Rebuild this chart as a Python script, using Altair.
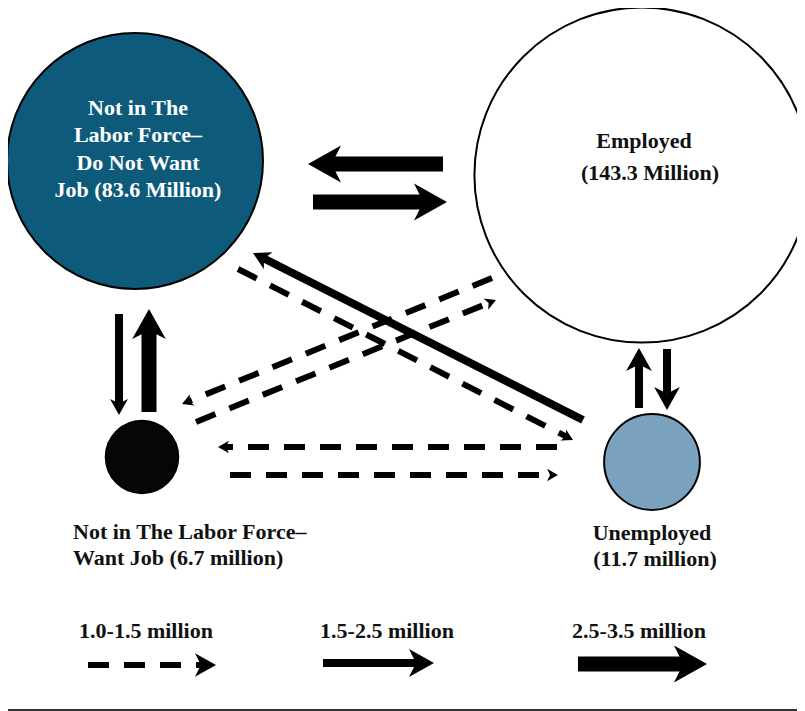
import math
import altair as alt
import pandas as pd

# ---------------- data ----------------
node_ids = ["dnw", "emp", "wj", "unemp"]
node_millions = [83.6, 143.3, 6.7, 11.7]
node_lines = [
    ["Not in The", "Labor Force–", "Do Not Want", "Job (83.6 Million)"],
    ["Employed", "(143.3 Million)"],
    ["Not in The Labor Force–", "Want Job (6.7 million)"],
    ["Unemployed", "(11.7 million)"],
]
flow_classes = ["1.0-1.5 million", "1.5-2.5 million", "2.5-3.5 million"]
flow_from = ["emp", "dnw", "dnw", "wj", "unemp", "emp", "unemp", "dnw", "emp", "wj", "unemp", "wj"]
flow_to = ["dnw", "emp", "wj", "dnw", "emp", "unemp", "dnw", "unemp", "wj", "emp", "wj", "unemp"]
flow_class = [2, 2, 1, 2, 1, 1, 1, 0, 0, 0, 0, 0]  # index into flow_classes

# ---------------- layout / style (reference pixel positions) ----------------
node_x = [135, 642, 142, 652]
node_y = [161, 175, 457, 462]
node_fill = ["#0d5a7a", "#ffffff", "#060606", "#7aa1bd"]
node_text_color = ["#ffffff", "#111111", "#111111", "#111111"]
node_text_align = ["center", "center", "left", "center"]
node_text_pos = [
    [(138, 115), (138, 142), (138, 170), (138, 197)],
    [(644, 148), (650, 180)],
    [(73, 539), (73, 565)],
    [(652, 540), (655, 566)],
]
flow_tail = [(443, 164), (313, 202), (119, 314), (149, 412), (639, 408), (667, 349),
             (583, 420), (238, 269), (492, 278), (196, 422), (557, 447), (230, 475)]
flow_tip = [(308, 164), (447, 202), (119, 415), (149, 309), (639, 348), (667, 410),
            (253, 253), (573, 440), (182, 404), (496, 300), (218, 447), (558, 475)]
flow_head = [33, 33, 16, 30, 23, 23, 17, 11, 11, 11, 11, 11]
legend_tail = [(88, 665), (323, 663), (578, 664)]
legend_tip = [(216, 665), (434, 663), (707, 664)]
legend_head = [21, 25, 33]
legend_text_pos = [(146, 638), (387, 638), (639, 638)]
class_width = [6, 8, 15]
DASH = [21, 15]
HEAD_PATH = "M0,0 L0.56,1 L0,0.72 L-0.56,1 Z"
FONT = "Liberation Serif"
FS = 22

W, H = 789, 703
xs = alt.Scale(domain=[8, 8 + W], nice=False, zero=False)
ys = alt.Scale(domain=[8, 8 + H], nice=False, zero=False, reverse=True)

# ---------------- tables ----------------
nodes = pd.DataFrame({"id": node_ids, "millions": node_millions, "x": node_x,
                      "y": node_y, "fill": node_fill})

rows = []
def add_arrow(tail, tip, cls, head, kind):
    dx, dy = tip[0] - tail[0], tip[1] - tail[1]
    ln = math.hypot(dx, dy)
    ux, uy = dx / ln, dy / ln
    back = 0.72 * head
    rows.append({
        "x0": tail[0], "y0": tail[1], "x1": tip[0], "y1": tip[1],
        "xe": tip[0] - ux * back, "ye": tip[1] - uy * back,
        "cls": flow_classes[cls], "dashed": cls == 0,
        "w": class_width[cls], "hsize": 4 * head * head,
        "angle": (math.degrees(math.atan2(dx, -dy)) + 360) % 360, "kind": kind,
    })

for i in range(len(flow_from)):
    add_arrow(flow_tail[i], flow_tip[i], flow_class[i], flow_head[i], "flow")
for i in range(3):
    add_arrow(legend_tail[i], legend_tip[i], i, legend_head[i], "legend")
arrows = pd.DataFrame(rows)

trows = []
for i, lines in enumerate(node_lines):
    for line, (tx, ty) in zip(lines, node_text_pos[i]):
        trows.append({"t": line, "x": tx, "y": ty, "c": node_text_color[i],
                      "align": node_text_align[i]})
for i, c in enumerate(flow_classes):
    trows.append({"t": c, "x": legend_text_pos[i][0], "y": legend_text_pos[i][1],
                  "c": "#111111", "align": "center"})
texts = pd.DataFrame(trows)

base_line = pd.DataFrame({"x": [8], "x2": [8 + W], "y": [710]})

def X(f):
    return alt.X(f, type="quantitative", scale=xs, axis=None)

def Y(f):
    return alt.Y(f, type="quantitative", scale=ys, axis=None)

circles = alt.Chart(nodes).mark_circle(opacity=1, stroke="black", strokeWidth=2).encode(
    x=X("x"), y=Y("y"),
    size=alt.Size("millions:Q", scale=alt.Scale(domain=[0, 83.6], range=[0, 4 * 128 * 128]), legend=None),
    fill=alt.Fill("fill:N", scale=None),
)

solid = alt.Chart(arrows).transform_filter("!datum.dashed").mark_rule(color="black", strokeCap="butt").encode(
    x=X("x0"), y=Y("y0"), x2="xe", y2="ye",
    strokeWidth=alt.StrokeWidth("w:Q", scale=None),
)
dashed = alt.Chart(arrows).transform_filter("datum.dashed").mark_rule(
    color="black", strokeCap="butt", strokeDash=DASH).encode(
    x=X("x0"), y=Y("y0"), x2="xe", y2="ye",
    strokeWidth=alt.StrokeWidth("w:Q", scale=None),
)
heads = alt.Chart(arrows).mark_point(shape=HEAD_PATH, filled=True, opacity=1, color="black",
                                     strokeWidth=0).encode(
    x=X("x1"), y=Y("y1"),
    angle=alt.Angle("angle:Q", scale=None),
    size=alt.Size("hsize:Q", scale=None, legend=None),
)

txt_c = alt.Chart(texts).transform_filter("datum.align == 'center'").mark_text(
    align="center", baseline="alphabetic", font=FONT, fontWeight="bold", fontSize=FS).encode(
    x=X("x"), y=Y("y"), text="t:N", color=alt.Color("c:N", scale=None))
txt_l = alt.Chart(texts).transform_filter("datum.align == 'left'").mark_text(
    align="left", baseline="alphabetic", font=FONT, fontWeight="bold", fontSize=FS).encode(
    x=X("x"), y=Y("y"), text="t:N", color=alt.Color("c:N", scale=None))

rule_bottom = alt.Chart(base_line).mark_rule(color="#333333", strokeWidth=2).encode(
    x=X("x"), x2="x2", y=Y("y"))

chart = alt.layer(circles, solid, dashed, heads, txt_c, txt_l, rule_bottom).resolve_scale(
    size="independent"
).properties(
    width=W, height=H, padding=0, autosize=alt.AutoSizeParams(type="none")
).configure_view(stroke=None)

chart.save("out.html", embed_options={"renderer": "svg", "actions": False})
